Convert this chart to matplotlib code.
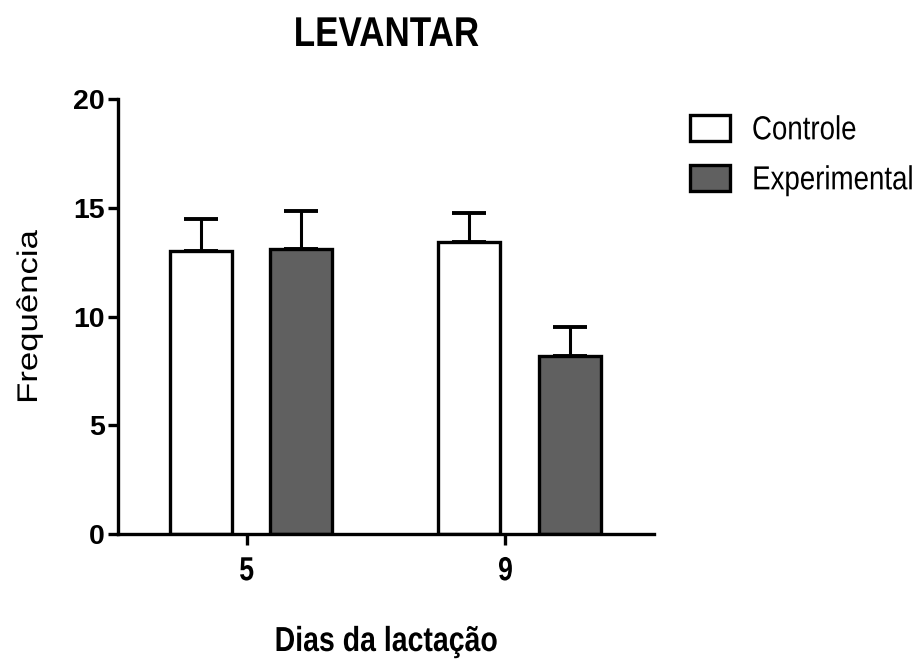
import matplotlib
matplotlib.use("Agg")
import matplotlib.pyplot as plt
from matplotlib.patheffects import AbstractPathEffect
from matplotlib.transforms import Affine2D

# Data
days = ["5", "9"]
series = ["Controle", "Experimental"]
controle_mean = [13.0, 13.42]
controle_sem = [1.5, 1.36]
experimental_mean = [13.09, 8.2]
experimental_sem = [1.76, 1.34]
y_ticks = [0, 5, 10, 15, 20]

title = "LEVANTAR"
xlabel = "Dias da lactação"
ylabel = "Frequência"


class Stretch(AbstractPathEffect):
    """Scale glyph outlines horizontally (in text-local coordinates)."""

    def __init__(self, sx, anchor="center"):
        super().__init__()
        self.sx = sx
        self.anchor = anchor

    def draw_path(self, renderer, gc, tpath, affine, rgbFace=None):
        ext = tpath.get_extents()
        cx = ext.x0 if self.anchor == "left" else 0.5 * (ext.x0 + ext.x1)
        local = Affine2D().translate(-cx, 0).scale(self.sx, 1).translate(cx, 0)
        renderer.draw_path(gc, tpath, local + affine, rgbFace)


FONT = "Liberation Sans"

W, H = 921, 669
fig = plt.figure(figsize=(W / 100, H / 100), dpi=100)
ax_left, ax_right, ax_bottom, ax_top = 118, 654, 534, 99.3
ax = fig.add_axes([ax_left / W, 1 - ax_bottom / H,
                   (ax_right - ax_left) / W, (ax_bottom - ax_top) / H])

# Layout of groups (group spacing = 1 unit)
group_pos = [0.0, 1.0]
offset = 0.187
bar_w = 0.231
tick_pos = [-0.016, 0.947]
lw = 2.4
gray = "#606060"

ctrl_x = [g - offset for g in group_pos]
exp_x = [g + offset for g in group_pos]

b1 = ax.bar(ctrl_x, controle_mean, width=bar_w, color="white",
            edgecolor="black", linewidth=lw, label=series[0], zorder=3)
b2 = ax.bar(exp_x, experimental_mean, width=bar_w, color=gray,
            edgecolor="black", linewidth=lw, label=series[1], zorder=3)

zeros = [0, 0]
ax.errorbar(ctrl_x, controle_mean, yerr=[zeros, controle_sem], fmt="none",
            ecolor="black", elinewidth=2.2, capsize=12.5, capthick=2.8, zorder=2)
ax.errorbar(exp_x, experimental_mean, yerr=[zeros, experimental_sem], fmt="none",
            ecolor="black", elinewidth=2.2, capsize=12.5, capthick=2.8, zorder=2)

ax.set_xlim((ax_left - 251) / 268.7, (ax_right - 251) / 268.7)
ax.set_ylim(0, 20)

for s in ["top", "right"]:
    ax.spines[s].set_visible(False)
for s in ["left", "bottom"]:
    ax.spines[s].set_linewidth(lw)
    ax.spines[s].set_zorder(4)

ax.set_yticks(y_ticks)
ax.set_yticklabels([str(v) for v in y_ticks], fontfamily=FONT,
                   fontweight="bold", fontsize=20.5)
ax.set_xticks(tick_pos)
ax.set_xticklabels(days, fontfamily=FONT, fontweight="bold", fontsize=24)
for t in ax.get_xticklabels():
    t.set_path_effects([Stretch(0.8)])
ax.tick_params(axis="y", direction="out", length=7.5, width=lw, pad=2)
ax.tick_params(axis="x", direction="out", length=8, width=lw, pad=8)

ax.set_xlabel(xlabel, fontfamily=FONT, fontweight="bold", fontsize=25,
              path_effects=[Stretch(0.82)])
ax.xaxis.set_label_coords(0.5, -(625 - ax_bottom) / (ax_bottom - ax_top))
ax.set_ylabel(ylabel, fontfamily=FONT, fontsize=20.5,
              path_effects=[Stretch(1.22)])
ax.yaxis.set_label_coords((43 - ax_left) / (ax_right - ax_left), 0.5)

fig.text(386 / W, 1 - 46 / H, title, ha="center", va="baseline",
         fontfamily=FONT, fontweight="bold", fontsize=30,
         path_effects=[Stretch(0.84)])

leg = ax.legend(handles=[b1, b2], labels=series, loc="upper left",
                bbox_to_anchor=(690 / W, 1 - 115 / H),
                bbox_transform=fig.transFigure, frameon=False,
                prop={"family": FONT, "size": 24}, borderpad=0,
                borderaxespad=0, handlelength=1.2, handleheight=0.8,
                handletextpad=0.65, labelspacing=0.56)
for t in leg.get_texts():
    t.set_path_effects([Stretch(0.83, anchor="left")])

fig.savefig("out.png", dpi=100)
